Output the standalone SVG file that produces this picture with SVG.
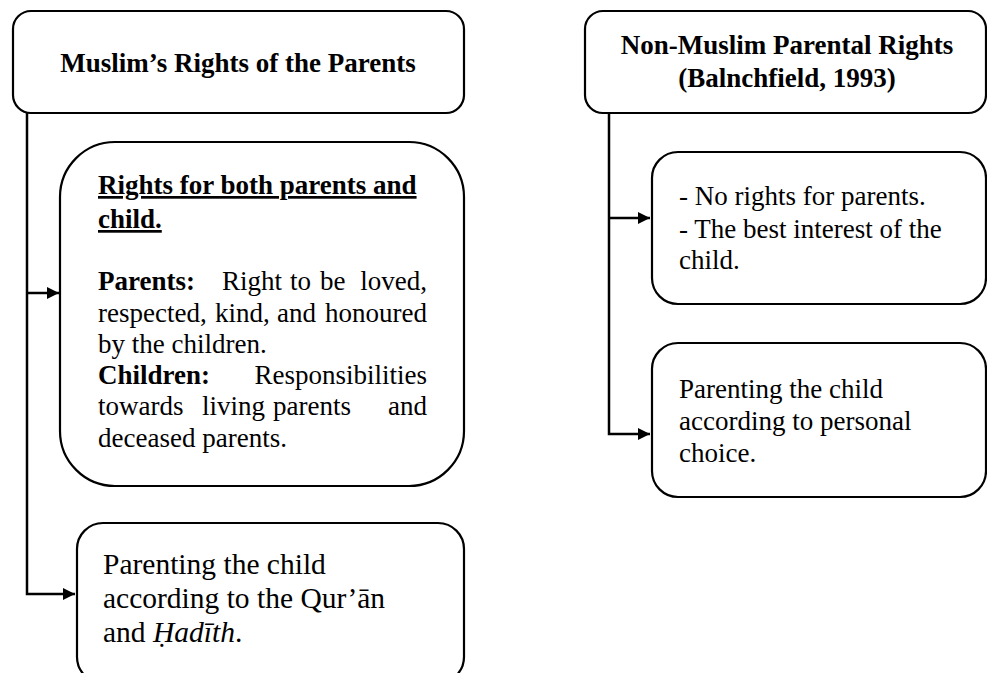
<svg xmlns="http://www.w3.org/2000/svg" width="987" height="673" viewBox="0 0 987 673">
<style>
.box{fill:#fff;stroke:#000;stroke-width:2.2}
.t{font-family:"Liberation Serif","Times New Roman",serif;fill:#000;font-size:27px}
.b{font-weight:bold}
.big{font-size:29.5px}
.conn{fill:none;stroke:#000;stroke-width:2.5}
</style>
<defs>
<marker id="ah" viewBox="0 0 10 10" refX="10" refY="5" markerWidth="5" markerHeight="5" markerUnits="strokeWidth" orient="auto">
<path d="M0,0 L10,5 L0,10 z" fill="#000"/>
</marker>
</defs>
<rect width="987" height="673" fill="#fff"/>
<g id="connectors">
<path class="conn" d="M27,113 V594 H75" marker-end="url(#ah)"/>
<path class="conn" d="M27,293 H59" marker-end="url(#ah)"/>
<path class="conn" d="M609,113 V434 H650" marker-end="url(#ah)"/>
<path class="conn" d="M609,218 H650" marker-end="url(#ah)"/>
</g>
<g id="muslim-header">
<rect class="box" x="13" y="11" width="451" height="102" rx="18"/>
<text class="t b" x="238" y="72" text-anchor="middle">Muslim’s Rights of the Parents</text>
</g>
<g id="rights-both">
<rect class="box" x="60" y="142" width="404" height="344" rx="55"/>
<text class="t b" x="98" y="194" text-decoration="underline">Rights for both parents and</text>
<text class="t b" x="98" y="228" text-decoration="underline">child.</text>
<text class="t"><tspan class="b" x="98" y="290">Parents:</tspan><tspan x="222" y="290">Right</tspan><tspan x="290" y="290">to</tspan><tspan x="320" y="290">be</tspan></text>
<text class="t" x="427" y="290" text-anchor="end">loved,</text>
<text class="t"><tspan x="98" y="322">respected,</tspan><tspan x="215" y="322">kind,</tspan><tspan x="277" y="322">and</tspan></text>
<text class="t" x="427" y="322" text-anchor="end">honoured</text>
<text class="t" x="98" y="353">by the children.</text>
<text class="t b" x="98" y="384">Children:</text>
<text class="t" x="427" y="384" text-anchor="end">Responsibilities</text>
<text class="t"><tspan x="98" y="415">towards</tspan><tspan x="202" y="415">living</tspan><tspan x="273" y="415">parents</tspan></text>
<text class="t" x="427" y="415" text-anchor="end">and</text>
<text class="t" x="98" y="447">deceased parents.</text>
</g>
<g id="quran-hadith">
<rect class="box" x="77" y="523" width="387" height="160" rx="26"/>
<text class="t big" x="103" y="574">Parenting the child</text>
<text class="t big" x="103" y="608">according to the Qur’ān</text>
<text class="t big" x="103" y="642">and <tspan font-style="italic">Ḥadīth</tspan>.</text>
</g>
<g id="nonmuslim-header">
<rect class="box" x="585" y="11" width="401" height="102" rx="18"/>
<text class="t b" x="787" y="54" text-anchor="middle">Non-Muslim Parental Rights</text>
<text class="t b" x="787" y="87" text-anchor="middle">(Balnchfield, 1993)</text>
</g>
<g id="no-rights">
<rect class="box" x="652" y="152" width="334" height="152" rx="26"/>
<text class="t" x="679" y="205">- No rights for parents.</text>
<text class="t" x="679" y="238">- The best interest of the</text>
<text class="t" x="679" y="269">child.</text>
</g>
<g id="personal-choice">
<rect class="box" x="652" y="343" width="334" height="154" rx="26"/>
<text class="t" x="679" y="398">Parenting the child</text>
<text class="t" x="679" y="430">according to personal</text>
<text class="t" x="679" y="462">choice.</text>
</g>
</svg>
